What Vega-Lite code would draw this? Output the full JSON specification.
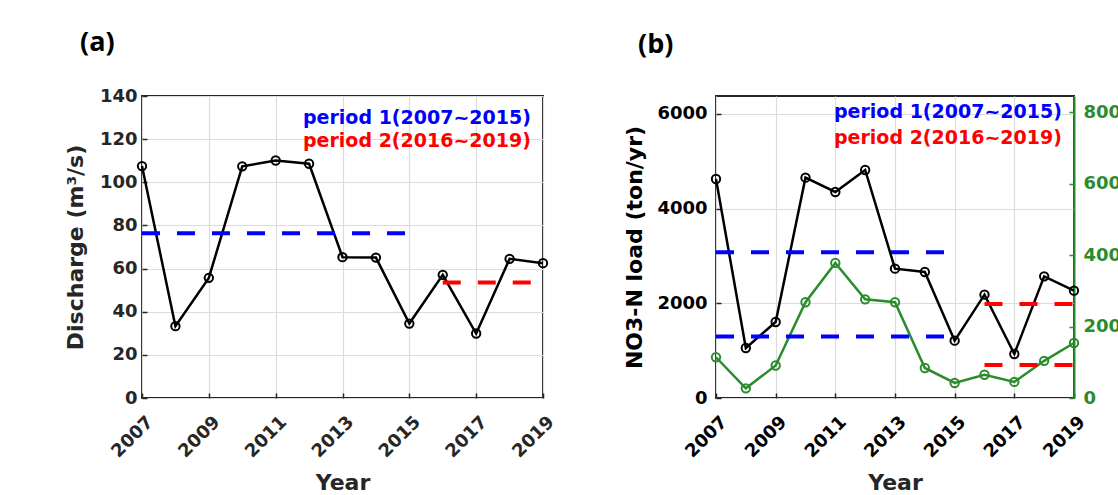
{
  "$schema": "https://vega.github.io/schema/vega-lite/v6.json",
  "background": "white",
  "padding": {"left": 63, "top": 28, "right": 0, "bottom": 0},
  "datasets": {
    "annual": [
      {"year": 2007, "discharge": 107.5, "no3n_load": 4627, "right_axis": 114},
      {"year": 2008, "discharge": 33.3, "no3n_load": 1056, "right_axis": 27},
      {"year": 2009, "discharge": 55.7, "no3n_load": 1606, "right_axis": 91},
      {"year": 2010, "discharge": 107.4, "no3n_load": 4655, "right_axis": 268},
      {"year": 2011, "discharge": 110.1, "no3n_load": 4352, "right_axis": 378},
      {"year": 2012, "discharge": 108.6, "no3n_load": 4817, "right_axis": 276},
      {"year": 2013, "discharge": 65.3, "no3n_load": 2732, "right_axis": 268},
      {"year": 2014, "discharge": 65.1, "no3n_load": 2662, "right_axis": 84},
      {"year": 2015, "discharge": 34.5, "no3n_load": 1211, "right_axis": 42},
      {"year": 2016, "discharge": 57.1, "no3n_load": 2183, "right_axis": 65},
      {"year": 2017, "discharge": 29.9, "no3n_load": 930, "right_axis": 45},
      {"year": 2018, "discharge": 64.5, "no3n_load": 2570, "right_axis": 104},
      {"year": 2019, "discharge": 62.5, "no3n_load": 2268, "right_axis": 154}
    ],
    "means": [
      {"period": "period 1(2007~2015)", "start": 2007, "end": 2015, "discharge": 76.4, "no3n_load": 3081, "right_axis": 172},
      {"period": "period 2(2016~2019)", "start": 2016, "end": 2019, "discharge": 53.5, "no3n_load": 1988, "right_axis": 92}
    ]
  },
  "config": {
    "font": "DejaVu Sans",
    "view": {"stroke": "#262626", "strokeWidth": 2},
    "axis": {
      "labelFont": "DejaVu Sans", "labelFontWeight": "bold", "labelFontSize": 18, "labelColor": "#262626",
      "titleFont": "DejaVu Sans", "titleFontWeight": "bold", "titleFontSize": 22, "titleColor": "#262626",
      "gridColor": "#dcdcdc", "gridWidth": 1.2, "gridOpacity": 1,
      "domain": false, "tickColor": "#262626", "tickSize": -5, "tickWidth": 1.5
    },
    "legend": {
      "orient": "top-right", "offset": 12, "padding": 0,
      "symbolSize": 0, "symbolStrokeWidth": 0, "symbolOpacity": 0,
      "labelFont": "DejaVu Sans", "labelFontWeight": "bold", "labelFontSize": 19,
      "labelOffset": 0, "rowPadding": 3, "labelLimit": 400
    },
    "title": {"font": "Open Sans", "fontSize": 27, "fontWeight": "bold", "color": "#000000", "anchor": "start", "frame": "group"}
  },
  "spacing": 63,
  "resolve": {"scale": {"color": "independent"}, "legend": {"color": "independent"}},
  "hconcat": [
    {
      "width": 401, "height": 302,
      "title": {"text": "(a)", "dx": -62, "offset": 30},
      "encoding": {
        "x": {"field": "year", "type": "quantitative",
          "scale": {"domain": [2007, 2019], "nice": false, "zero": false},
          "axis": {"values": [2007, 2009, 2011, 2013, 2015, 2017, 2019], "format": "d", "grid": true,
            "labelAngle": -45, "labelAlign": "right", "labelBaseline": "middle", "labelOffset": 8, "labelPadding": 26,
            "title": "Year", "titlePadding": 12}}
      },
      "layer": [
        {
          "data": {"name": "annual"},
          "mark": {"type": "line", "color": "#000000", "strokeWidth": 2.5},
          "encoding": {
            "y": {"field": "discharge", "type": "quantitative", "scale": {"domain": [0, 140], "nice": false},
              "axis": {"values": [0, 20, 40, 60, 80, 100, 120, 140], "format": "d", "grid": true, "labelPadding": 10,
                "title": "Discharge (m³/s)", "titlePadding": 12}}
          }
        },
        {
          "data": {"name": "annual"},
          "mark": {"type": "point", "shape": "circle", "filled": false, "color": "#000000", "size": 70, "strokeWidth": 2, "opacity": 1},
          "encoding": {"y": {"field": "discharge", "type": "quantitative"}}
        },
        {
          "data": {"name": "means"},
          "mark": {"type": "rule", "strokeWidth": 4, "strokeDash": [18, 17]},
          "encoding": {
            "x": {"field": "start", "type": "quantitative"},
            "x2": {"field": "end"},
            "y": {"field": "discharge", "type": "quantitative"},
            "color": {"field": "period", "type": "nominal",
              "scale": {"domain": ["period 1(2007~2015)", "period 2(2016~2019)"], "range": ["#0000ff", "#ff0000"]},
              "legend": {"title": null, "offset": 12,
                "encode": {"labels": {"update": {"fill": {"signal": "indexof(datum.label, 'period 1') === 0 ? '#0000ff' : '#ff0000'"}}}}}}
          }
        }
      ]
    },
    {
      "width": 358, "height": 302,
      "title": {"text": "(b)", "dx": -78, "offset": 37},
      "encoding": {
        "x": {"field": "year", "type": "quantitative",
          "scale": {"domain": [2007, 2019], "nice": false, "zero": false},
          "axis": {"values": [2007, 2009, 2011, 2013, 2015, 2017, 2019], "format": "d", "grid": true,
            "labelAngle": -45, "labelAlign": "right", "labelBaseline": "middle", "labelOffset": 8, "labelPadding": 26,
            "labelColor": "#000000", "titleColor": "#262626",
            "title": "Year", "titlePadding": 12}}
      },
      "layer": [
        {
          "encoding": {
            "y": {"field": "no3n_load", "type": "quantitative", "scale": {"domain": [0, 6380], "nice": false},
              "axis": {"orient": "left", "values": [0, 2000, 4000, 6000], "format": "d", "grid": true, "labelPadding": 14, "labelColor": "#000000",
                "title": "NO3-N load (ton/yr)", "titleColor": "#000000", "titlePadding": 10}}
          },
          "layer": [
            {"data": {"name": "annual"}, "mark": {"type": "line", "color": "#000000", "strokeWidth": 2.5}},
            {"data": {"name": "annual"}, "mark": {"type": "point", "shape": "circle", "filled": false, "color": "#000000", "size": 70, "strokeWidth": 2, "opacity": 1}},
            {
              "data": {"name": "means"},
              "mark": {"type": "rule", "strokeWidth": 4, "strokeDash": [18, 17]},
              "encoding": {
                "x": {"field": "start", "type": "quantitative"},
                "x2": {"field": "end"},
                "color": {"field": "period", "type": "nominal",
                  "scale": {"domain": ["period 1(2007~2015)", "period 2(2016~2019)"], "range": ["#0000ff", "#ff0000"]},
                  "legend": {"title": null, "offset": 12, "rowPadding": 6,
                    "encode": {"labels": {"update": {"fill": {"signal": "indexof(datum.label, 'period 1') === 0 ? '#0000ff' : '#ff0000'"}, "dx": {"value": -6}, "dy": {"value": -6}}}}}}
              }
            }
          ]
        },
        {
          "encoding": {
            "y": {"field": "right_axis", "type": "quantitative", "scale": {"domain": [0, 845], "nice": false},
              "axis": {"orient": "right", "values": [0, 200, 400, 600, 800], "format": "d", "grid": false, "labelPadding": 14,
                "labelColor": "#2a8c2a", "tickColor": "#2a8c2a", "domain": true, "domainColor": "#2a8c2a", "domainWidth": 2,
                "title": null}}
          },
          "layer": [
            {"data": {"name": "annual"}, "mark": {"type": "line", "color": "#2a8c2a", "strokeWidth": 2.5}},
            {"data": {"name": "annual"}, "mark": {"type": "point", "shape": "circle", "filled": false, "color": "#2a8c2a", "size": 70, "strokeWidth": 2, "opacity": 1}},
            {
              "data": {"name": "means"},
              "mark": {"type": "rule", "strokeWidth": 4, "strokeDash": [18, 17]},
              "encoding": {
                "x": {"field": "start", "type": "quantitative"},
                "x2": {"field": "end"},
                "color": {"field": "period", "type": "nominal",
                  "scale": {"domain": ["period 1(2007~2015)", "period 2(2016~2019)"], "range": ["#0000ff", "#ff0000"]},
                  "legend": {"title": null, "offset": 12, "rowPadding": 6,
                    "encode": {"labels": {"update": {"fill": {"signal": "indexof(datum.label, 'period 1') === 0 ? '#0000ff' : '#ff0000'"}, "dx": {"value": -6}, "dy": {"value": -6}}}}}}
              }
            }
          ]
        }
      ],
      "resolve": {"scale": {"y": "independent"}}
    }
  ]
}
